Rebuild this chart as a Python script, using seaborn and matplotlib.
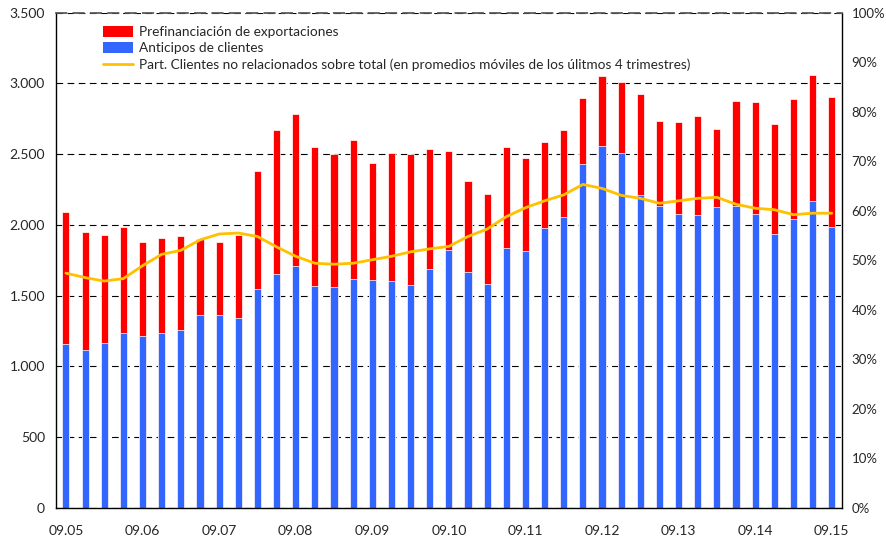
import seaborn as sns
import pandas as pd
import matplotlib.pyplot as plt
from matplotlib.patches import Patch
from matplotlib.lines import Line2D
from matplotlib.ticker import FuncFormatter, FixedLocator

# quarterly data, sep-2005 .. sep-2015
total = [2089, 1949, 1927, 1983, 1876, 1910, 1920, 1898, 1876, 1927,
         2377, 2672, 2784, 2551, 2498, 2600, 2438, 2508, 2498, 2534,
         2522, 2309, 2215, 2547, 2474, 2585, 2668, 2893, 3053, 3011,
         2927, 2735, 2728, 2769, 2677, 2873, 2869, 2709, 2890, 3062, 2900]
anticipos = [1160, 1118, 1167, 1235, 1215, 1235, 1254, 1360, 1360, 1343,
             1547, 1656, 1711, 1571, 1564, 1619, 1610, 1607, 1578, 1687,
             1820, 1668, 1583, 1840, 1813, 1980, 2058, 2433, 2559, 2508,
             2213, 2135, 2075, 2067, 2123, 2135, 2075, 1937, 2038, 2171, 1983]
part_clientes = [47.4, 46.5, 45.8, 46.3, 48.9, 51.2, 52.0, 54.1, 55.3, 55.5,
                 54.8, 52.7, 50.8, 49.4, 49.2, 49.4, 50.1, 50.8, 51.7, 52.3,
                 52.8, 54.8, 56.3, 58.8, 60.6, 62.0, 63.2, 65.3, 64.5, 63.1,
                 62.5, 61.5, 62.0, 62.5, 62.7, 61.3, 60.5, 60.2, 59.2, 59.5, 59.5]
tick_labels = ["09.05", "09.06", "09.07", "09.08", "09.09", "09.10",
               "09.11", "09.12", "09.13", "09.14", "09.15"]

df = pd.DataFrame({"q": list(range(len(total))), "total": total,
                   "anticipos": anticipos, "part": part_clientes})

sns.set_theme(style="white")
plt.rcParams['font.family'] = ['Lato', 'DejaVu Sans']

fig = plt.figure(figsize=(8.86, 5.37), dpi=100)
ax = fig.add_axes([0.0632, 0.054, 0.8868, 0.9227])

red = "#FF0000"
blue = "#3366FF"
gold = "#FFC000"

sns.barplot(data=df, x="q", y="total", color=red, saturation=1, width=0.37,
            edgecolor="white", linewidth=0.5, ax=ax)
sns.barplot(data=df, x="q", y="anticipos", color=blue, saturation=1, width=0.37,
            edgecolor="white", linewidth=0.5, ax=ax)

ax.set_xlim(-0.52, len(total) - 0.48)
ax.set_ylim(0, 3500)
ax.set_yticks(range(0, 3501, 500))
ax.yaxis.set_major_formatter(FuncFormatter(lambda v, p: f"{int(v):,}".replace(",", ".")))
ax.set_xticks(range(0, len(total), 4))
ax.set_xticklabels(tick_labels)
ax.xaxis.set_minor_locator(FixedLocator([k - 0.5 for k in range(len(total) + 1)]))
ax.tick_params(axis="x", which="major", length=0, labelsize=10, pad=12)
ax.tick_params(axis="x", which="minor", length=3, width=0.8, color="black", direction="in")
ax.tick_params(axis="y", length=0, labelsize=10, pad=8)
ax.set_xlabel("")
ax.set_ylabel("")
ax.yaxis.grid(True, linestyle=(0, (6, 4)), color="black", linewidth=0.8)
ax.set_axisbelow(True)

for s in ["left", "bottom", "right"]:
    ax.spines[s].set_color("black")
    ax.spines[s].set_linewidth(1)
ax.spines["top"].set_linestyle((0, (6, 4)))
ax.spines["top"].set_color("#555555")

ax2 = ax.twinx()
sns.lineplot(data=df, x="q", y="part", color=gold, linewidth=2, ax=ax2)
ax2.set_ylim(0, 100)
ax2.set_yticks(range(0, 101, 10))
ax2.yaxis.set_major_formatter(FuncFormatter(lambda v, p: f"{int(v)}%"))
ax2.tick_params(axis="y", length=0, labelsize=9.5, pad=7)
ax2.set_ylabel("")
ax2.set_xlabel("")
ax2.set_xlim(-0.52, len(total) - 0.48)
for s in ax2.spines.values():
    s.set_visible(False)

handles = [Patch(facecolor=red, edgecolor="none"),
           Patch(facecolor=blue, edgecolor="none"),
           Line2D([0], [0], color=gold, linewidth=2)]
labels = ["Prefinanciación de exportaciones", "Anticipos de clientes",
          "Part. Clientes no relacionados sobre total (en promedios móviles de los úlitmos 4 trimestres)"]
ax2.legend(handles, labels, loc="upper left", bbox_to_anchor=(0.050, 0.99),
           frameon=False, fontsize=9.8, handlelength=2.2, handleheight=0.9,
           labelspacing=0.3, handletextpad=0.4, borderaxespad=0.2)

fig.savefig("out.png", dpi=100)
